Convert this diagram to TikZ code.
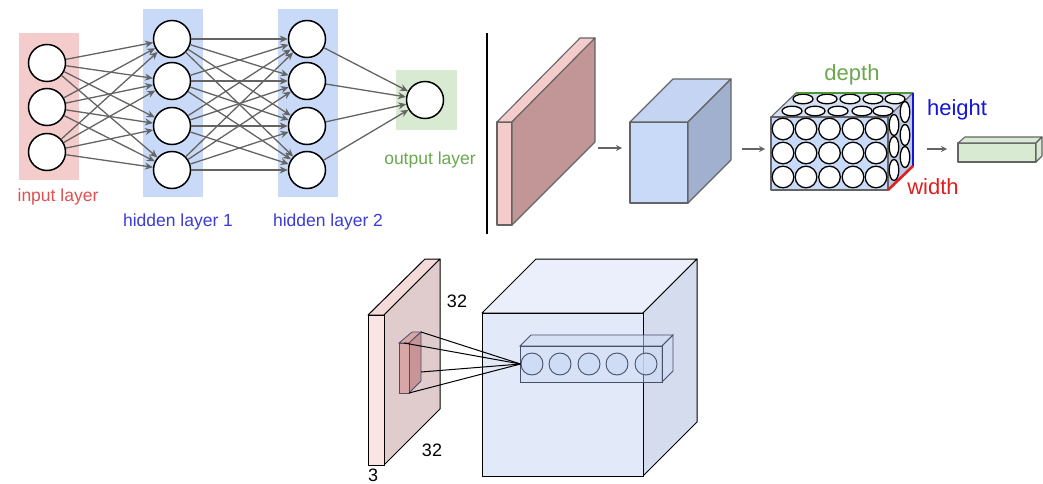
\documentclass[tikz,border=0pt]{standalone}
\usepackage{fontspec}
\setmainfont{Liberation Sans}
\usetikzlibrary{arrows.meta}
\definecolor{inpink}{RGB}{244,204,204}
\definecolor{hidblue}{RGB}{201,218,248}
\definecolor{outgreen}{RGB}{217,234,211}
\definecolor{txtred}{RGB}{224,80,80}
\definecolor{txtblue}{RGB}{60,60,215}
\definecolor{txtgreen}{RGB}{106,168,79}
\definecolor{edgegray}{RGB}{100,100,100}
\definecolor{slabright}{RGB}{194,150,150}
\definecolor{cubetop}{RGB}{196,212,242}
\definecolor{cuberight}{RGB}{160,176,206}
\definecolor{ctop}{RGB}{214,224,242}
\definecolor{cright}{RGB}{190,202,228}
\definecolor{dgreen}{RGB}{80,150,50}
\definecolor{dblue}{RGB}{20,20,220}
\definecolor{dred}{RGB}{225,30,30}
\definecolor{bslabfront}{RGB}{250,228,228}
\definecolor{bslabtop}{RGB}{245,218,218}
\definecolor{bslabright}{RGB}{224,204,204}
\definecolor{rffront}{RGB}{216,166,166}
\definecolor{rfright}{RGB}{200,148,150}
\definecolor{bcfront}{RGB}{226,233,249}
\definecolor{bctop}{RGB}{234,239,251}
\definecolor{bcright}{RGB}{212,220,238}
\definecolor{rowfill}{RGB}{205,219,245}
\definecolor{rowline}{RGB}{70,80,105}
\begin{document}
\begin{tikzpicture}[x=1pt,y=-1pt,
  neuron/.style={circle,draw=black,line width=1.5pt,fill=white,minimum size=37pt,inner sep=0pt},
  conn/.style={draw=edgegray,line width=1.3pt,-{Stealth[length=8pt,width=7pt]}},
  lbl/.style={font=\fontsize{17.5}{20}\selectfont,inner sep=0pt},
  big/.style={font=\fontsize{22}{25}\selectfont,inner sep=0pt},
  num/.style={font=\fontsize{18}{20}\selectfont,inner sep=0pt},
  face/.style={draw=edgegray,line width=1.1pt,line join=round},
  bface/.style={draw=black,line width=1pt,line join=round},
  smallarrow/.style={draw=edgegray,line width=1.3pt,-{Stealth[length=6pt,width=6pt]}},
  cball/.style={draw=black,line width=1.3pt,fill=white},
  rowball/.style={circle,draw=rowline,line width=0.9pt,fill=rowfill,minimum size=22pt,inner sep=0pt}]
\useasboundingbox (0,0) rectangle (1043,484);
\fill[white] (0,0) rectangle (1043,484);

% ---------- left panel: fully connected network ----------
\fill[inpink] (19,33) rectangle (79,180);
\fill[hidblue] (143,9) rectangle (203,197);
\fill[hidblue] (278,9) rectangle (338,197);
\fill[outgreen] (396,70) rectangle (457,130);

\node[neuron] (in1) at (47,63) {};
\node[neuron] (in2) at (47,107) {};
\node[neuron] (in3) at (47,152) {};
\foreach \k/\y in {1/39,2/81,3/126,4/170} {
  \node[neuron] (ha\k) at (172,\y) {};
  \node[neuron] (hb\k) at (307,\y) {};
}
\node[neuron] (out) at (425,100) {};

\foreach \i in {1,2,3} \foreach \j in {1,2,3,4} \draw[conn] (in\i) -- (ha\j);
\foreach \i in {1,2,3,4} \foreach \j in {1,2,3,4} \draw[conn] (ha\i) -- (hb\j);
\foreach \i in {1,2,3,4} \draw[conn] (hb\i) -- (out);

\node[lbl,text=txtred] (tin) at (58,197) {input layer};
\node[lbl,text=txtblue] (th1) at (178,222) {hidden layer 1};
\node[lbl,text=txtblue] (th2) at (328,222) {hidden layer 2};
\node[lbl,text=txtgreen] (tout) at (430,160) {output layer};

% divider
\coordinate (divtop) at (487,33);
\coordinate (divbot) at (487,234);
\draw[line width=1.2pt] (divtop) -- (divbot);

% ---------- middle panel ----------
% pink slab
\filldraw[face,fill=inpink] (497,122) rectangle (512,225);
\filldraw[face,fill=inpink] (497,122) -- (512,122) -- (595,38) -- (580,38) -- cycle;
\filldraw[face,fill=slabright] (512,122) -- (595,38) -- (595,142) -- (512,225) -- cycle;
\coordinate (a1s) at (598,148); \coordinate (a1e) at (622,148);
\draw[smallarrow] (a1s) -- (a1e);
% blue cube
\filldraw[face,fill=hidblue] (630,122) rectangle (688,203);
\filldraw[face,fill=cubetop] (630,122) -- (673,79) -- (731,79) -- (688,122) -- cycle;
\filldraw[face,fill=cuberight] (688,122) -- (731,79) -- (731,160) -- (688,203) -- cycle;
\coordinate (a2s) at (742,149); \coordinate (a2e) at (765,149);
\draw[smallarrow] (a2s) -- (a2e);
% neuron volume
\filldraw[face,fill=ctop] (771,117) -- (796,93) -- (913,93) -- (888,117) -- cycle;
\filldraw[face,fill=cright] (888,117) -- (913,93) -- (913,166) -- (888,190) -- cycle;
\filldraw[face,fill=hidblue] (771,117) rectangle (888,190);
\foreach \x in {803,827,850,873,895} \filldraw[cball] (\x,99) ellipse [x radius=10pt,y radius=4.8pt];
\foreach \x in {792,815,838,862,883} \filldraw[cball] (\x,111) ellipse [x radius=10pt,y radius=4.8pt];
\foreach \y in {112,135,157} \filldraw[cball] (905,\y) ellipse [x radius=4.8pt,y radius=10.5pt];
\foreach \y in {125,147,170} \filldraw[cball] (894,\y) ellipse [x radius=4.8pt,y radius=10.5pt];
\foreach \x in {783,806,829.5,853,876} \foreach \y in {129,153,177} \filldraw[cball] (\x,\y) circle [radius=10.8pt];
\draw[dgreen,line width=2.6pt] (796,93) -- (913,93);
\draw[dblue,line width=2.6pt] (913,93) -- (913,166);
\draw[dred,line width=2.6pt] (913,166) -- (888,190);
\node[big,text=txtgreen] (tdepth) at (852,75) {depth};
\node[big,text=dblue] (theight) at (957,110) {height};
\node[big,text=dred] (twidth) at (933,187) {width};
\coordinate (a3s) at (927,149); \coordinate (a3e) at (947,149);
\draw[smallarrow] (a3s) -- (a3e);
% green output box
\filldraw[face,fill=outgreen] (958,143) rectangle (1036,162);
\filldraw[face,fill=outgreen] (958,143) -- (965,137) -- (1042,137) -- (1036,143) -- cycle;
\filldraw[face,fill=outgreen] (1036,143) -- (1042,137) -- (1042,156) -- (1036,162) -- cycle;

% ---------- bottom panel ----------
% input slab
\filldraw[bface,fill=bslabtop] (368,315) -- (425,259) -- (440,259) -- (384,315) -- cycle;
\filldraw[bface,fill=bslabright] (384,315) -- (440,259) -- (440,409) -- (384,465) -- cycle;
\filldraw[bface,fill=bslabfront] (368,315) rectangle (384,465);
% receptive field
\filldraw[draw=rowline,line width=0.8pt,fill=rffront] (399,343) -- (412,332) -- (421,332) -- (409,343) -- cycle;
\filldraw[draw=rowline,line width=0.8pt,fill=rfright] (409,343) -- (421,332) -- (421,381) -- (409,393) -- cycle;
\filldraw[draw=rowline,line width=0.8pt,fill=rffront] (399,343) rectangle (409,393);
\coordinate (rf1) at (421,332);
\coordinate (rf2) at (404,343);
\coordinate (rf3) at (421,372);
\coordinate (rf4) at (409,393);
% big cube
\filldraw[bface,fill=bctop] (482,313) -- (536,259) -- (697,259) -- (643,313) -- cycle;
\filldraw[bface,fill=bcright] (643,313) -- (697,259) -- (697,422) -- (643,476) -- cycle;
\filldraw[bface,fill=bcfront] (482,313) rectangle (643,476);
% row of neurons
\filldraw[draw=rowline,line width=0.9pt,fill=rowfill,fill opacity=0.55] (520,346) -- (531,335) -- (673,335) -- (662,346) -- cycle;
\filldraw[draw=rowline,line width=0.9pt,fill=rowfill,fill opacity=0.55] (662,346) -- (673,335) -- (673,371) -- (662,382) -- cycle;
\filldraw[draw=rowline,line width=0.9pt,fill=rowfill,fill opacity=0.45] (520,346) rectangle (662,382);
\foreach \k/\x in {1/532,2/560,3/589,4/617,5/646} \node[rowball,fill opacity=0.8] (c\k) at (\x,364) {};
\foreach \r in {rf1,rf2,rf3,rf4} \draw[black,line width=1pt] (\r) -- (c1.west);
\node[num] (n32a) at (457,301) {32};
\node[num] (n32b) at (432,450) {32};
\node[num] (n3) at (373,475) {3};
\end{tikzpicture}
\end{document}
